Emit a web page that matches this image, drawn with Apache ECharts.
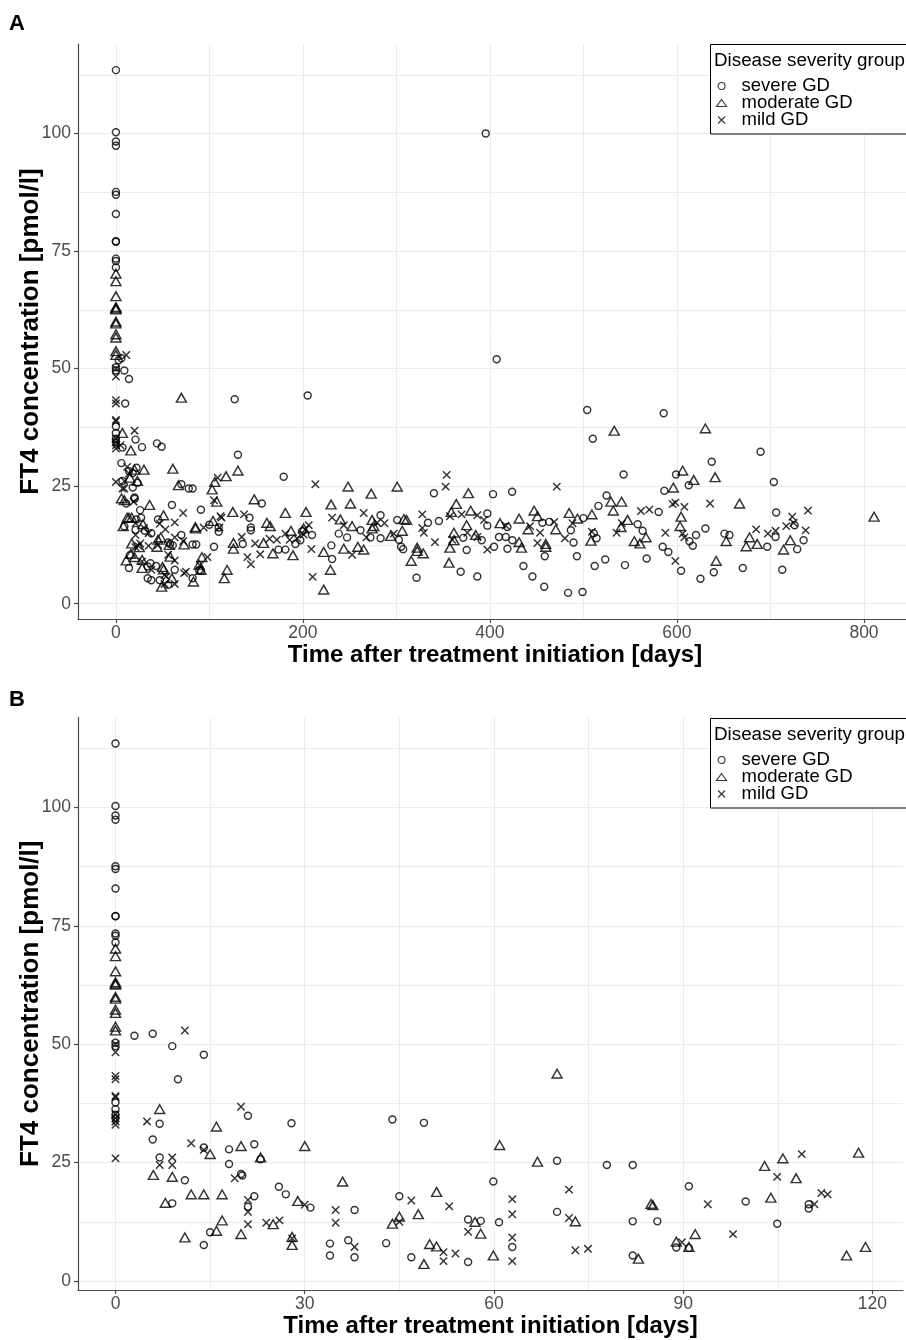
<!DOCTYPE html>
<html><head><meta charset="utf-8">
<script src="https://cdn.jsdelivr.net/npm/echarts@6/dist/echarts.min.js"></script>
<style>html,body{margin:0;padding:0;background:#fff}#c{width:906px;height:1340px}</style>
</head><body><div id="c"></div>
<script>
// ---- data: [days after treatment initiation, FT4 pmol/l] ----
const severeGD = [
 [0,113.5],[0,100.3],[0,98.3],[0,97.4],[0,87.6],[0,87.0],[0,82.9],[0,77.1],[0,77.0],[0,73.4],[0,72.9],[0,71.5],[0,50.3],[0,49.6],[0,37.7],[0,36.3],[0,35.1],[0,34.4],
 [3.0,51.8],[5.9,52.2],[9.0,49.6],[14.0,47.8],[9.9,42.6],[7.0,33.2],[5.9,29.9],[14.0,28.2],[7.0,26.1],[11.0,21.3],[9.0,16.4],[21.0,34.9],[22.0,28.9],[18.0,27.8],[18.0,24.7],[23.0,25.7],[19.9,22.6],[20.1,22.3],[22.0,17.9],[21.0,15.7],[25.9,19.9],[27.0,18.3],[30.9,15.5],[15.0,10.3],[14.0,7.6],[27.9,33.3],
 [37.9,15.0],[34.0,7.9],[34.0,5.4],[36.9,8.6],[37.9,5.0],[43.9,34.1],[48.9,33.4],[45.0,17.9],[42.9,8.0],[46.9,5.0],[55.9,13.0],[57.9,12.7],[55.9,4.0],[59.9,21.0],[60.8,12.4],[62.9,7.2],[70.0,25.4],[70.0,14.6],[77.9,24.5],[82.0,24.5],[82.0,12.6],[82.0,5.4],[85.9,12.6],[88.9,7.1],[90.9,7.0],[90.9,20.0],[99.9,16.8],[104.9,12.1],[109.9,16.2],[109.9,15.3],
 [127,43.5],[130.5,31.7],[156,21.3],[142.9,18.3],[144.3,16.2],[144.3,15.6],[135.7,12.7],[173.9,11.5],
 [179.4,27.0],[205.1,44.3],[407.2,52.0],[395.5,100.0],[504,41.2],[510,35.1],[340.1,23.5],[403.3,23.3],[423.7,23.8],[516,20.8],[283,18.8],[261.5,15.6],[238.3,14.9],[247.2,14.1],[230.4,12.4],[231.2,9.5],[272.2,14.1],[283,13.9],[300.8,17.8],[302.6,13.6],[305,12.1],[307.2,11.6],[321.5,5.5],[333.7,17.2],[345.4,17.6],[371.5,14.0],[368.7,6.8],[375.1,11.4],[386.5,5.8],[397.2,19.2],[397.2,16.6],[391.2,13.5],[404.4,12.1],[409.7,14.2],[416.9,14.2],[418.7,11.7],[424,13.5],[418.7,16.3],[435.8,8.0],[456.1,17.2],[458.6,10.1],[445.4,5.8],[458,3.6],[463.3,17.4],[486.5,15.6],[489.4,13.0],[493,10.1],[483.6,2.3],[499,2.5],[500,18.2],[514,13.9],[512,8.0],[181.2,11.5],[191.9,12.7],[197.2,13.5],[209.7,14.6],[199,15.4],
 [585.8,40.5],[637.2,30.2],[689.4,32.3],[542.9,27.5],[599,27.5],[612.6,25.2],[586.5,24.0],[703.6,25.9],[524.7,23.0],[580.4,19.5],[558,16.9],[563.3,15.5],[511,15.0],[613.3,13.3],[620.4,14.6],[630.4,16.0],[584.7,12.1],[590.8,11.0],[616.9,12.3],[650.8,14.9],[656.1,14.6],[604.4,7.0],[625.1,5.3],[639.4,6.7],[670.4,7.6],[712.6,7.2],[523.3,9.4],[544.4,8.2],[567.6,9.6],[696.5,12.1],[705.4,14.2],[706.1,19.4],[725.8,16.7],[728.6,11.6],[735.4,13.5]
];
const moderateGD = [
 [0,70.2],[0,68.6],[0,65.4],[0,63.1],[0,62.8],[0,62.6],[0,60.0],[0,59.6],[0,57.3],[0,56.6],[0,53.7],[0,52.9],
 [7.0,36.3],[15.0,26.8],[6.0,22.4],[9.0,22.0],[12.0,18.3],[14.0,18.3],[16.9,18.3],[7.9,16.5],[11.0,9.2],[16.0,32.6],[19.9,28.5],[23.0,26.1],[28.9,16.9],[16.9,12.8],[16.0,10.6],[19.9,9.9],[25.0,12.0],[30.0,28.5],[28.0,9.3],[28.0,7.6],[36.0,21.0],[50.9,18.8],[45.0,13.6],[43.9,12.1],[48.0,14.1],[48.9,3.6],[49.8,7.8],[50.9,7.3],[57.0,12.5],[57.9,10.0],[59.9,5.4],[60.9,28.7],[66.9,25.2],[70.0,43.8],[72.9,12.6],[82.9,4.7],[84.9,16.3],[85.2,16.0],[88.9,8.3],[90.9,7.2],[91.9,9.9],[102.9,24.3],[103.9,17.6],[105.8,25.9],[107.9,21.7],[115.9,5.4],[117.8,27.1],[118.9,7.2],
 [130.5,28.3],[147.9,22.2],[125,19.5],[161.4,17.2],[165,16.5],[125.7,12.9],[125.7,11.7],[157.9,12.9],[167.9,10.7],
 [181.2,19.3],[203.3,19.5],[248.3,24.9],[300.8,24.9],[273,23.4],[230.1,21.1],[250.8,21.3],[376.9,23.5],[240,17.9],[252.6,16.5],[222.2,11.0],[229.4,7.2],[222.2,3.0],[243.7,11.7],[258.7,12.1],[265,11.5],[274,17.8],[274,16.0],[275.8,16.5],[293.7,14.4],[306.2,15.5],[308,18.0],[310.8,17.8],[315.8,9.1],[322.2,11.9],[322.2,11.2],[328.7,10.7],[358.7,19.5],[364,21.2],[357.2,11.9],[361.5,15.1],[361.5,13.5],[375.1,16.7],[356.2,8.7],[379.4,19.8],[384.7,14.6],[410.8,17.1],[431.2,18.1],[431.2,13.1],[433.7,11.9],[440.8,15.8],[447.2,19.8],[450.8,18.6],[459.7,12.7],[459.7,12.1],[470.4,15.8],[484.7,19.3],[493.6,18.1],[509,19.0],[508,13.4],[187.2,15.5],[189.4,10.3],[200.8,16.0],
 [532.9,36.8],[630.4,37.3],[606.1,28.3],[617.9,26.3],[596.1,24.7],[640.8,26.9],[529.4,21.7],[540.8,21.7],[531.9,19.8],[666.9,21.3],[604.4,18.5],[603.3,16.5],[547.2,17.8],[540.1,16.3],[554.4,13.3],[560.4,12.8],[566.9,14.1],[652.6,13.3],[641.9,9.1],[677.6,14.1],[674,12.2],[685.8,12.7],[721.1,13.5],[714,11.5],[810.8,18.5]
];
const mildGD = [
 [0,50.0],[0,48.3],[0,43.3],[0,42.6],[0,39.1],[0,38.8],[0,35.1],[0,34.4],[0,33.7],[0,33.0],[0,25.9],
 [11.0,52.9],[5.0,33.7],[12.0,29.1],[14.0,27.7],[7.0,24.5],[9.0,26.1],[9.0,24.5],[19.9,36.8],[18.9,21.7],[21.0,17.1],[21.0,14.6],[21.0,12.0],[30.0,16.1],[23.9,12.3],[26.0,12.8],[28.0,9.0],[34.9,15.0],[34.9,12.3],[37.9,7.2],[46.9,17.0],[52.9,15.8],[45.0,12.5],[52.0,6.1],[52.0,4.2],[53.9,5.8],[55.9,10.4],[62.9,17.3],[62.9,14.1],[62.9,9.2],[62.9,4.2],[71.9,19.3],[71.9,13.3],[72.9,6.5],[74.9,6.8],[89.8,8.2],[93.9,16.2],[97.9,9.9],[104.9,22.0],[108.8,26.8],[110.8,16.2],[111.9,18.6],[112.9,18.3],
 [137.1,19.0],[134.6,14.2],[148.9,12.8],[164.3,13.8],[172.1,13.6],[154.3,10.5],[140.7,9.9],[144.3,8.4],
 [213.3,25.4],[353.7,27.4],[352.6,24.9],[471.5,24.9],[265,19.3],[231.2,18.3],[243.7,16.7],[210.4,5.7],[209,11.6],[252.6,10.4],[267.9,14.1],[279.4,17.2],[287.2,17.1],[297.2,14.9],[327.6,19.0],[327.6,16.1],[329.4,15.1],[341.2,13.1],[357.2,18.6],[369.7,19.0],[359.7,13.6],[375.8,15.1],[386.5,18.8],[393.7,17.8],[386.5,14.2],[397.2,11.5],[416.9,16.6],[442.9,16.5],[453.6,15.1],[450.8,12.9],[468.7,17.4],[480.1,13.9],[488.3,17.1],[509,15.3],[181.2,14.9],[185.8,13.6],[193.7,13.9],[202.6,15.8],[206.2,16.7],[200.8,14.7],
 [561.5,19.7],[570.4,20.0],[595.4,21.2],[598.3,21.5],[607.9,20.6],[635.4,21.3],[541.1,17.1],[535.4,15.1],[587.6,15.1],[606.1,14.9],[607.9,14.1],[598.3,9.1],[684.7,15.8],[697.2,14.9],[705.4,15.5],[716.9,16.5],[723.3,18.5],[724.7,17.2],[737.6,15.6],[740.1,19.8]
];
const groupNames = ['severe GD', 'moderate GD', 'mild GD'];
const legendTitle = 'Disease severity group';
const yTicks = [0, 25, 50, 75, 100];
const yMinorTicks = [12.5, 37.5, 62.5, 87.5, 112.5];
const xTicksA = [0, 200, 400, 600, 800];
const xMinorA = [100, 300, 500, 700];
const xTicksB = [0, 30, 60, 90, 120];
const xMinorB = [15, 45, 75, 105];
const panelBMaxDay = 120;
const xTitle = 'Time after treatment initiation [days]';
const yTitle = 'FT4 concentration [pmol/l]';

// ---- layout ----
const FONT = "'Liberation Sans', Arial, Helvetica, sans-serif";
const groups = [severeGD, moderateGD, mildGD];
function expand(vals) { const mn = Math.min(...vals), mx = Math.max(...vals), p = (mx - mn) * 0.05; return [mn - p, mx + p]; }
const allA = [].concat(...groups);
const allB = allA.filter(p => p[0] <= panelBMaxDay);
const yRA = expand(allA.map(p => p[1]));
const yRB = expand(allB.map(p => p[1]));
const xRA = expand(allA.map(p => p[0]));
const xRB = expand(allB.map(p => p[0]));

const XPATH = 'path://M0,0L10,10M10,0L0,10';
const symbols = [
  {symbol: 'circle', symbolSize: 7},
  {symbol: 'triangle', symbolSize: [10, 8.8]},
  {symbol: XPATH, symbolSize: 7.4}
];
const markStyle = {color: 'rgba(0,0,0,0)', borderColor: '#000', borderWidth: 1.45};
const AXC = '#4a4a4a';
function xAxisFor(i, rng, ticks) {
  return {gridIndex: i, type: 'value', min: rng[0], max: rng[1],
    axisLine: {show: true, onZero: false, lineStyle: {color: AXC, width: 1.2}},
    axisTick: {show: true, length: 4, customValues: ticks, lineStyle: {color: AXC, width: 1.2}},
    axisLabel: {customValues: ticks, color: '#4d4d4d', fontSize: 17.5, fontFamily: FONT, margin: 5},
    splitLine: {show: false},
    name: xTitle, nameLocation: 'middle', nameGap: 24, nameMoveOverlap: false,
    nameTextStyle: {fontFamily: FONT, fontWeight: 'bold', fontSize: 24, color: '#000'}};
}
function yAxisFor(i, rng) {
  return {gridIndex: i, type: 'value', min: rng[0], max: rng[1],
    axisLine: {show: true, onZero: false, lineStyle: {color: AXC, width: 1.2}},
    axisTick: {show: true, length: 4, customValues: yTicks, lineStyle: {color: AXC, width: 1.2}},
    axisLabel: {customValues: yTicks, color: '#4d4d4d', fontSize: 17.5, fontFamily: FONT, margin: 7},
    splitLine: {show: false},
    name: yTitle, nameLocation: 'middle', nameGap: 34, nameMoveOverlap: false,
    nameTextStyle: {fontFamily: FONT, fontWeight: 'bold', fontSize: 26, color: '#000'}};
}
function gridSeries(i, xt) {
  const lines = yTicks.concat(yMinorTicks).map(v => ({yAxis: v})).concat(xt.map(v => ({xAxis: v})));
  return {type: 'scatter', xAxisIndex: i, yAxisIndex: i, data: [], silent: true, z: 0,
    markLine: {silent: true, symbol: ['none', 'none'], z: 0, animation: false, label: {show: false},
      lineStyle: {color: '#ebebeb', width: 1, type: 'solid'}, emphasis: {disabled: true}, data: lines}};
}
const series = [];
[0, 1].forEach(i => {
  series.push(gridSeries(i, i === 0 ? xTicksA.concat(xMinorA) : xTicksB.concat(xMinorB)));
  groups.forEach((g, k) => {
    series.push(Object.assign({type: 'scatter', name: groupNames[k], xAxisIndex: i, yAxisIndex: i, z: 3,
      data: i === 0 ? g : g.filter(p => p[0] <= panelBMaxDay), itemStyle: markStyle, silent: true, clip: true}, symbols[k]));
  });
});
const legendIcons = ['circle', 'triangle', XPATH];
function legendFor(offset) {
  return {orient: 'vertical', left: 716, top: 76.5 + offset, itemWidth: 10, itemHeight: 7, itemGap: -2, padding: 0, z: 20,
    selectedMode: false,
    textStyle: {fontFamily: FONT, fontSize: 18.5, color: '#000', padding: [0, 0, 0, 10]},
    data: groupNames.map((n, k) => ({name: n, icon: legendIcons[k],
      itemStyle: {color: 'rgba(0,0,0,0)', borderColor: '#000', borderWidth: 1.1}}))};
}
function legendBox(offset) {
  return [
    {type: 'rect', z: 10, shape: {x: 710.5, y: 44.5 + offset, width: 220, height: 89.5}, style: {fill: '#fff', stroke: '#000', lineWidth: 1}},
    {type: 'text', z: 11, x: 714, y: 61 + offset, style: {text: legendTitle, font: '18.8px ' + FONT, fill: '#000', verticalAlign: 'middle'}}
  ];
}
const OFF = 674;
const option = {
  animation: false,
  backgroundColor: '#fff',
  title: [
    {text: 'A', left: 9, top: 13, padding: 0, textStyle: {fontFamily: FONT, fontWeight: 'bold', fontSize: 22, color: '#000'}},
    {text: 'B', left: 9, top: 13 + OFF + 2, padding: 0, textStyle: {fontFamily: FONT, fontWeight: 'bold', fontSize: 22, color: '#000'}}
  ],
  grid: [
    {left: 78, right: -6, top: 44, bottom: 721, containLabel: false, outerBoundsMode: 'none'},
    {left: 78, right: 3, top: 717.5, bottom: 50, containLabel: false, outerBoundsMode: 'none'}
  ],
  xAxis: [xAxisFor(0, xRA, xTicksA), xAxisFor(1, xRB, xTicksB)],
  yAxis: [yAxisFor(0, yRA), yAxisFor(1, yRB)],
  legend: [legendFor(0), legendFor(OFF)],
  graphic: legendBox(0).concat(legendBox(OFF)),
  series: series
};
const chart = echarts.init(document.getElementById('c'), null, {renderer: 'canvas'});
chart.setOption(option);
</script></body></html>
